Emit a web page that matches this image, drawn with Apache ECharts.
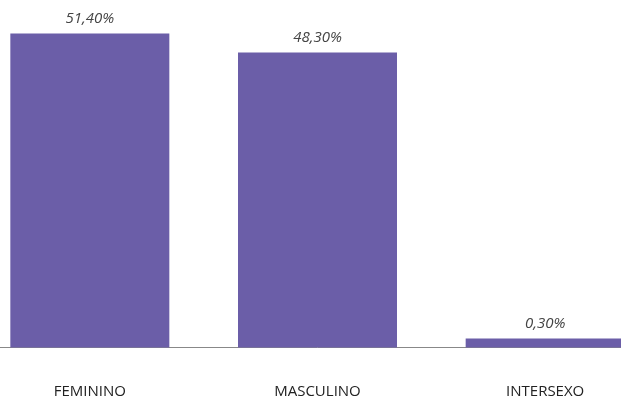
<!DOCTYPE html>
<html>
<head>
<meta charset="utf-8">
<script src="https://cdn.jsdelivr.net/npm/echarts@6/dist/echarts.min.js"></script>
<style>
  html, body { margin: 0; padding: 0; background: #fff; overflow: hidden; }
  body { width: 621px; height: 396px; }
  #chart { width: 683px; height: 396px; margin-left: -24px; }
</style>
</head>
<body>
<div id="chart"></div>
<script>
const categories = ['FEMININO', 'MASCULINO', 'INTERSEXO']
const values = [51.4, 48.3, 0.3]

const chart = echarts.init(document.getElementById('chart'))

const option = {
  animation: false,
  grid: {
    left: 0,
    right: 0,
    top: 11.5,
    bottom: 48.5,
    outerBoundsMode: 'none',
  },
  xAxis: {
    type: 'category',
    data: categories,
    axisLine: { show: true, lineStyle: { color: '#888', width: 1 } },
    axisTick: { show: false },
    axisLabel: {
      margin: 37,
      color: '#222',
      fontSize: 15,
      fontFamily: 'Open Sans',
    },
  },
  yAxis: {
    type: 'value',
    min: 0,
    max: 55,
    show: false,
    splitLine: { show: false },
  },
  series: [
    {
      type: 'bar',
      data: values,
      barWidth: 159,
      barMinHeight: 9,
      itemStyle: { color: '#6b5ea8' },
      label: {
        show: true,
        position: 'top',
        distance: 7,
        color: '#444',
        fontSize: 15,
        fontStyle: 'italic',
        fontFamily: 'Open Sans',
        // vírgula como separador decimal
        formatter: (p) => p.value.toFixed(2).replace('.', ',') + '%',
      },
    },
  ],
}
chart.setOption(option)
</script>
</body>
</html>
